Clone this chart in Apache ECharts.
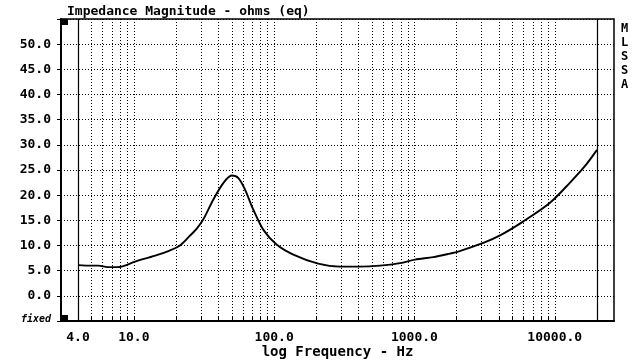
<!DOCTYPE html>
<html>
<head>
<meta charset="utf-8">
<script src="https://cdn.jsdelivr.net/npm/echarts@6/dist/echarts.min.js"></script>
<style>
html,body{margin:0;padding:0;background:#fff;}
#chart{width:637px;height:363px;}
</style>
</head>
<body>
<div id="chart"></div>
<script>
// Frequency (Hz) and impedance magnitude (ohms)
const freqs = [4, 5.0, 5.6, 6.5, 7.7, 10.2, 14.2, 18.0, 21.3, 25.0, 28.0, 31.3, 36.8, 43.4, 49.8, 55.6, 62, 71.1, 83.8, 104, 137, 206, 295, 409, 568, 789, 1009, 1361, 1790, 2054, 3097, 4074, 5975, 9250, 12850, 16440, 20000];
const impedance = [6.1, 6.0, 6.0, 5.7, 5.7, 6.8, 8.0, 9.0, 10.0, 11.9, 13.3, 15.2, 19.1, 22.4, 23.9, 23.4, 21.1, 17.1, 13.1, 10.2, 8.2, 6.4, 5.8, 5.8, 6.0, 6.5, 7.2, 7.7, 8.4, 8.8, 10.5, 12.0, 14.8, 18.5, 22.5, 25.8, 29.0];
// Vertical grid lines (log decades) and x tick labels
const gridFreqs = [4, 5, 6, 7, 8, 9, 10, 20, 30, 40, 50, 60, 70, 80, 90, 100, 200, 300, 400, 500, 600, 700, 800, 900, 1000, 2000, 3000, 4000, 5000, 6000, 7000, 8000, 9000, 10000, 20000];
const labelFreqs = [4, 10, 100, 1000, 10000];
const edgeFreqs = [4, 20000];
const yMin = -5, yMax = 55, yStep = 5;

const FONT = '"DejaVu Sans Mono", "Liberation Mono", monospace';
const chart = echarts.init(document.getElementById('chart'));
chart.setOption({
  animation: false,
  backgroundColor: '#fff',
  title: [
    { text: 'Impedance Magnitude - ohms (eq)', left: 62, top: 0,
      textStyle: { fontFamily: FONT, fontWeight: 'bold', fontSize: 13, color: '#000' } },
    { text: 'M\nL\nS\nS\nA', left: 616, top: 17,
      textStyle: { fontFamily: FONT, fontWeight: 'bold', fontSize: 12, lineHeight: 14, color: '#000' } }
  ],
  grid: { left: 61, right: 23, top: 19, bottom: 42, outerBoundsMode: 'none', containLabel: false,
    show: true, borderColor: '#000', borderWidth: 1.5, backgroundColor: 'transparent' },
  xAxis: {
    type: 'log', logBase: 10, min: 3.026, max: 26440,
    name: 'log Frequency - Hz', nameLocation: 'middle', nameGap: 24, nameMoveOverlap: false,
    nameTextStyle: { fontFamily: FONT, fontWeight: 'bold', fontSize: 14, color: '#000' },
    axisLine: { onZero: false, lineStyle: { color: '#000', width: 2 } },
    axisTick: { inside: true, length: 4, customValues: gridFreqs, lineStyle: { color: '#000' } },
    axisLabel: { customValues: labelFreqs, margin: 10, fontFamily: FONT, fontWeight: 'bold', fontSize: 13, color: '#000',
      formatter: v => Number(v).toFixed(1) },
    splitLine: { show: true, lineStyle: { color: '#000', type: [1, 2], width: 1 } },
    minorTick: { show: false }
  },
  yAxis: {
    type: 'value', min: yMin, max: yMax, interval: yStep,
    axisLine: { show: true, onZero: false, lineStyle: { color: '#000', width: 2 } },
    axisTick: { show: true, inside: false, length: 4, lineStyle: { color: '#000' } },
    axisLabel: { margin: 10, fontFamily: FONT, fontWeight: 'bold', fontSize: 13, color: '#000',
      formatter: v => v === yMax ? '' : (v === yMin ? '{f|fixed}' : v.toFixed(1)),
      rich: { f: { fontFamily: FONT, fontWeight: 'bold', fontSize: 10, fontStyle: 'italic', color: '#000', padding: [0, 0, 4, 0] } } },
    splitLine: { show: true, lineStyle: { color: '#000', type: [1, 2], width: 1 } }
  },
  graphic: [
    { type: 'rect', shape: { x: 62, y: 19, width: 6, height: 6 }, style: { fill: '#000' } },
    { type: 'rect', shape: { x: 62, y: 315, width: 6, height: 6 }, style: { fill: '#000' } }
  ],
  series: [{
    type: 'line',
    data: freqs.map((f, i) => [f, impedance[i]]),
    showSymbol: false,
    smooth: 0.3,
    lineStyle: { color: '#000', width: 1.9 },
    markLine: {
      silent: true, symbol: 'none', label: { show: false },
      lineStyle: { color: '#000', type: 'solid', width: 1.2 },
      data: edgeFreqs.map(f => ({ xAxis: f }))
    }
  }]
});
</script>
</body>
</html>
